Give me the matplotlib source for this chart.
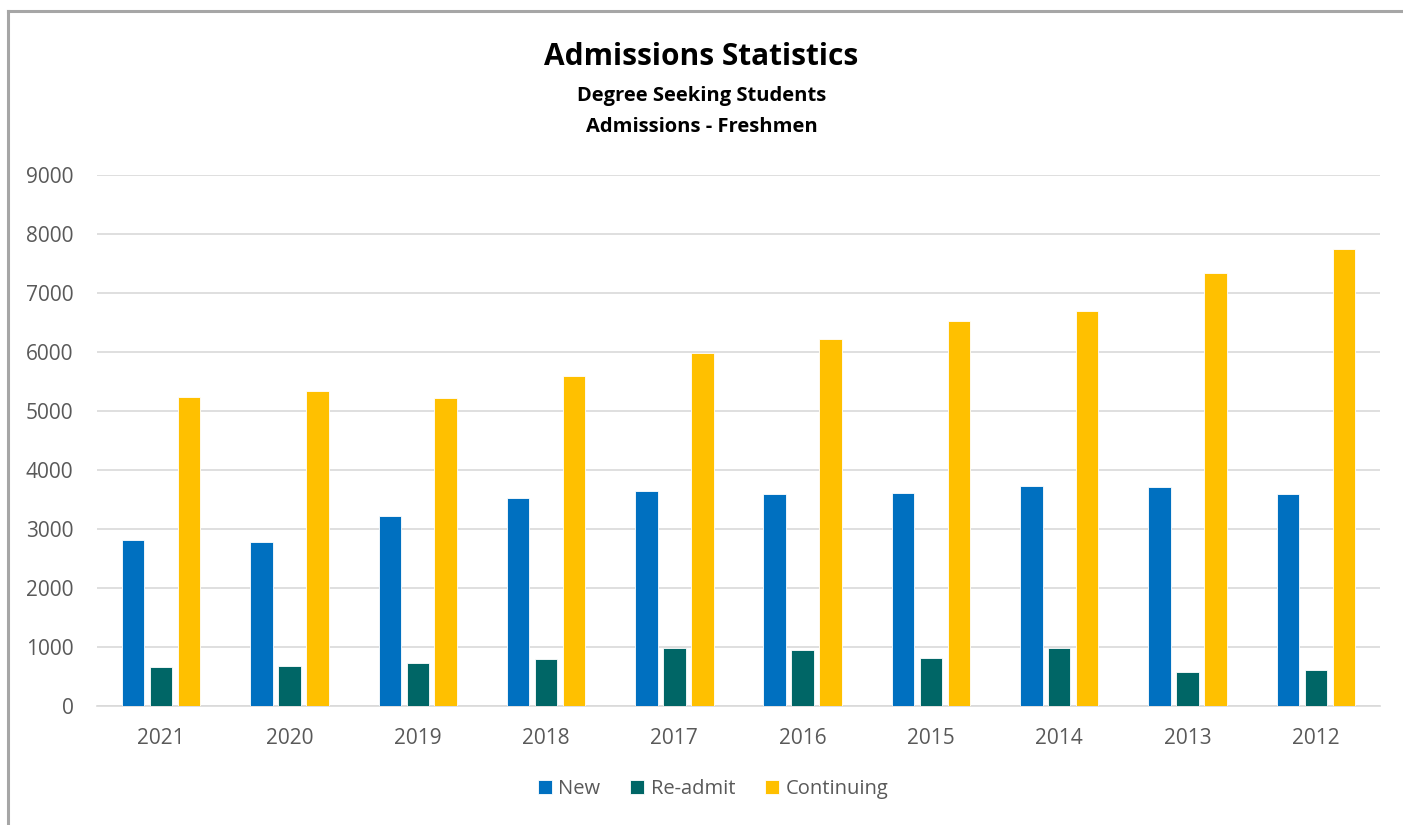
import matplotlib
matplotlib.use("Agg")
import matplotlib.pyplot as plt
from matplotlib.lines import Line2D
import numpy as np

years = ["2021", "2020", "2019", "2018", "2017", "2016", "2015", "2014", "2013", "2012"]
new = [2803, 2769, 3210, 3515, 3634, 3588, 3600, 3724, 3707, 3588]
readmit = [661, 673, 718, 786, 983, 939, 808, 978, 571, 600]
continuing = [5227, 5339, 5220, 5583, 5983, 6215, 6532, 6701, 7334, 7741]
series_names = ["New", "Re-admit", "Continuing"]
colors = ["#0070C0", "#006666", "#FFC000"]
yticks = [0, 1000, 2000, 3000, 4000, 5000, 6000, 7000, 8000, 9000]

plt.rcParams['font.family'] = ['Open Sans', 'DejaVu Sans']

fig = plt.figure(figsize=(14.03, 8.25), dpi=100)
ax = fig.add_axes([97/1403, (825-705.7)/825, 1283/1403, 530.7/825])

x = np.arange(len(years))
w = 0.175
step = 0.218
for i, (vals, c, name) in enumerate(zip([new, readmit, continuing], colors, series_names)):
    ax.bar(x + (i-1)*step, vals, width=w, color=c, edgecolor='white', linewidth=0.6,
           label=name, zorder=3)

ax.set_xlim(-0.5, len(years)-0.5)
ax.set_ylim(0, 9000)
ax.set_yticks(yticks)
ax.set_yticklabels([str(v) for v in yticks])
ax.set_xticks(x)
ax.set_xticklabels(years)
ax.grid(axis='y', color='#D9D9D9', linewidth=1.2, zorder=0)
ax.set_axisbelow(True)
for s in ['top', 'right', 'left']:
    ax.spines[s].set_visible(False)
ax.spines['bottom'].set_color('#D9D9D9')
ax.spines['bottom'].set_linewidth(1.2)
ax.tick_params(axis='both', length=0, labelsize=15, labelcolor='#595959')
ax.tick_params(axis='y', pad=17)
ax.tick_params(axis='x', pad=16)

fig.text(0.5, 1-57/825, "Admissions Statistics", ha='center', va='center',
         fontsize=21.5, fontweight='bold', color='black')
fig.text(0.5, 1-96/825, "Degree Seeking Students", ha='center', va='center',
         fontsize=14.5, fontweight='bold', color='black')
fig.text(0.5, 1-127/825, "Admissions - Freshmen", ha='center', va='center',
         fontsize=14.5, fontweight='bold', color='black')

leg = fig.legend(loc='center', bbox_to_anchor=(713/1403, 1-789/825), ncol=3, frameon=False,
                 fontsize=14.5, handlelength=0.7, handleheight=0.7, handletextpad=0.3,
                 columnspacing=1.5)
for t in leg.get_texts():
    t.set_color('#595959')

fig.add_artist(Line2D([8/1403, 8/1403], [0, 1-11/825], color='#A6A6A6', linewidth=2.2,
                      transform=fig.transFigure))
fig.add_artist(Line2D([8/1403, 1], [1-11/825, 1-11/825], color='#A6A6A6', linewidth=2.2,
                      transform=fig.transFigure))

fig.savefig("out.png", dpi=100)
